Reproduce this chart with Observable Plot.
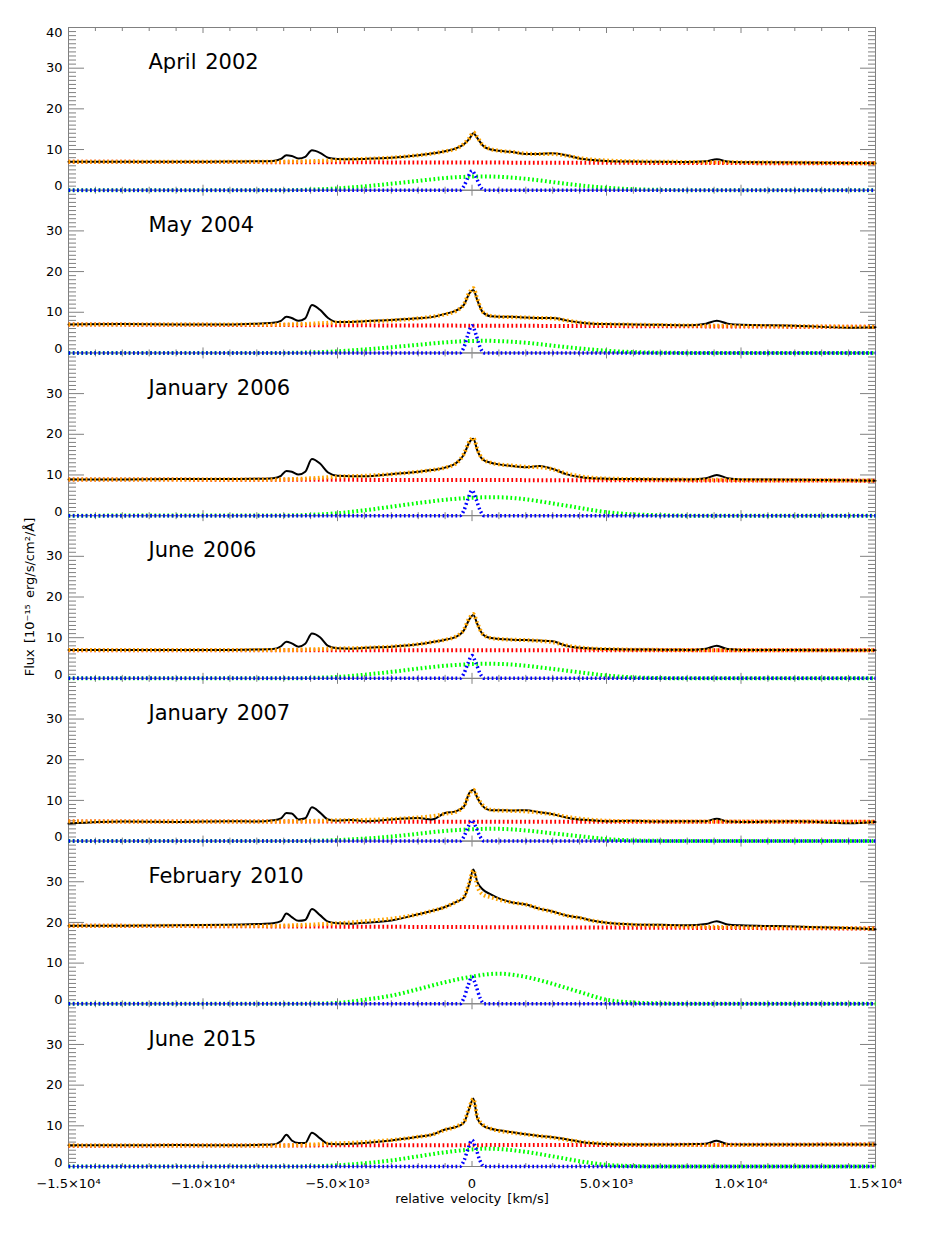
<!DOCTYPE html>
<html><head><meta charset="utf-8">
<script src="https://cdn.jsdelivr.net/npm/d3@7"></script>
<script src="https://cdn.jsdelivr.net/npm/@observablehq/plot@0.6"></script>
<style>html,body{margin:0;padding:0;background:#fff}</style>
</head><body><div id="chart"></div>
<script>
// ---------- data ----------
const panels = ["April 2002","May 2004","January 2006","June 2006","January 2007","February 2010","June 2015"];

// observed spectrum & total fit sampled on this velocity grid (km/s)
const velocity = [-15000,-13000,-11000,-9000,-8000,-7400,-7100,-6900,-6700,-6450,-6200,-5950,-5650,-5350,-5000,-4500,-4000,-3000,-2000,-1500,-1000,-600,-300,-100,50,200,400,700,1000,1500,2000,2500,3000,3500,4000,4500,5000,6000,7000,8000,8700,9100,9500,10000,12000,14000,15000];

const fluxApr2002 = [7.0,7.0,7.0,7.05,7.1,7.2,7.7,8.6,8.4,7.8,8.2,9.8,9.2,8.0,7.7,7.6,7.7,8.0,8.6,9.0,9.6,10.3,11.3,12.6,14.0,12.8,11.0,10.0,9.7,9.4,8.9,8.9,9.1,8.6,7.8,7.4,7.2,7.05,7.0,6.95,7.1,7.6,7.05,6.9,6.8,6.7,6.6];
const fitApr2002  = [7.0,7.0,7.0,7.0,7.0,7.0,7.0,7.05,7.05,7.1,7.1,7.15,7.2,7.3,7.45,7.6,7.7,8.0,8.6,9.0,9.6,10.2,11.4,12.8,14.2,13.0,11.1,10.1,9.7,9.4,9.0,8.9,8.9,8.5,7.9,7.5,7.3,7.1,7.0,6.95,6.9,6.9,6.9,6.85,6.75,6.65,6.6];

const fluxMay2004 = [7.0,7.1,7.0,7.0,7.2,7.4,7.9,8.9,8.6,7.9,8.5,11.8,10.6,8.6,7.6,7.6,7.8,8.1,8.5,8.8,9.6,10.4,11.8,14.6,15.5,12.9,10.0,9.0,8.9,8.9,8.7,8.6,8.6,8.0,7.5,7.2,7.1,7.0,6.9,6.8,7.2,7.9,7.2,6.9,6.7,6.2,6.3];
const fitMay2004  = [7.0,7.0,7.0,7.0,7.0,7.0,7.0,7.0,7.05,7.1,7.1,7.2,7.3,7.4,7.5,7.6,7.7,8.0,8.5,8.9,9.5,10.3,12.0,14.8,15.9,13.2,10.1,9.1,8.9,8.8,8.7,8.6,8.5,8.0,7.5,7.2,7.05,6.95,6.85,6.75,6.7,6.7,6.7,6.65,6.55,6.45,6.4];

const fluxJan2006 = [8.9,8.9,9.0,9.0,9.05,9.2,9.8,11.0,10.8,10.1,10.8,13.9,12.8,10.6,9.8,9.7,9.7,10.2,10.8,11.2,11.8,12.9,15.0,18.0,18.9,16.0,13.8,13.0,12.6,12.2,11.9,12.2,11.5,10.2,9.5,9.2,9.1,9.0,8.95,8.9,9.2,10.0,9.2,8.9,8.8,8.7,8.6];
const fitJan2006  = [8.9,8.9,8.9,8.9,8.9,8.9,8.9,8.95,9.0,9.05,9.1,9.2,9.3,9.45,9.6,9.7,9.8,10.2,10.8,11.2,11.8,12.8,15.2,18.2,19.1,16.3,13.9,13.0,12.6,12.3,12.0,11.9,11.4,10.4,9.7,9.3,9.1,9.0,8.9,8.85,8.8,8.8,8.8,8.75,8.7,8.65,8.6];

const fluxJun2006 = [7.0,7.0,7.0,7.0,7.1,7.2,7.9,9.0,8.6,7.8,8.5,11.0,10.1,8.0,7.4,7.3,7.5,7.8,8.4,8.9,9.5,10.2,11.8,14.5,15.6,13.3,10.8,9.9,9.7,9.5,9.4,9.3,9.1,8.0,7.5,7.35,7.2,7.1,7.05,7.0,7.3,8.0,7.2,7.0,6.95,6.9,6.9];
const fitJun2006  = [6.95,6.95,6.95,6.95,6.95,6.95,6.95,7.0,7.0,7.05,7.1,7.15,7.2,7.3,7.35,7.4,7.5,7.8,8.4,8.9,9.5,10.3,12.0,14.8,15.8,13.5,10.9,9.9,9.7,9.5,9.4,9.2,8.9,8.1,7.6,7.3,7.2,7.05,7.0,6.95,6.9,6.9,6.9,6.9,6.9,6.9,6.9];

const fluxJan2007 = [4.3,4.8,4.7,4.9,4.8,5.1,5.6,6.9,6.8,5.3,5.6,8.3,7.0,5.3,5.0,5.2,4.9,5.3,5.7,5.3,6.9,7.3,8.5,11.8,12.6,10.6,8.6,7.6,7.6,7.5,7.6,7.1,6.6,5.8,5.3,5.1,4.9,5.0,4.8,4.9,4.9,5.5,4.8,4.7,4.9,4.4,4.7];
const fitJan2007  = [4.8,4.8,4.8,4.8,4.8,4.8,4.8,4.85,4.85,4.9,4.9,4.95,5.0,5.05,5.1,5.15,5.2,5.4,5.8,6.1,6.7,7.2,8.6,11.5,12.6,10.8,8.8,7.7,7.5,7.4,7.3,7.0,6.6,6.0,5.5,5.2,5.0,4.9,4.85,4.8,4.8,4.8,4.8,4.8,4.8,4.75,4.75];

const fluxFeb2010 = [19.2,19.2,19.3,19.4,19.6,19.8,20.3,22.2,21.3,20.4,20.6,23.3,21.8,20.2,19.8,19.7,19.9,20.5,22.0,22.8,23.8,25.0,26.1,29.5,33.0,29.9,28.1,26.9,25.9,24.9,24.4,23.4,22.7,21.7,21.2,20.4,19.9,19.5,19.4,19.3,19.6,20.3,19.5,19.3,19.0,18.6,18.3];
const fitFeb2010  = [19.2,19.2,19.2,19.2,19.2,19.2,19.2,19.25,19.3,19.35,19.4,19.45,19.55,19.65,19.8,20.0,20.3,20.9,22.0,22.8,23.8,25.0,26.3,29.8,32.8,28.8,26.9,26.2,25.6,24.9,24.4,23.4,22.6,21.7,21.1,20.4,19.9,19.4,19.2,19.0,18.95,18.9,18.9,18.85,18.75,18.6,18.5];

const fluxJun2015 = [5.2,5.2,5.3,5.2,5.3,5.4,6.2,7.8,6.4,5.8,5.8,8.3,6.9,5.6,5.5,5.6,5.8,6.4,7.3,7.8,9.1,9.7,10.8,14.3,16.7,11.8,10.1,9.3,8.9,8.4,7.9,7.5,7.2,6.7,6.1,5.7,5.5,5.4,5.4,5.5,5.6,6.3,5.5,5.4,5.4,5.4,5.4];
const fitJun2015  = [5.15,5.15,5.15,5.15,5.15,5.15,5.15,5.2,5.25,5.3,5.35,5.4,5.5,5.6,5.7,5.8,6.0,6.5,7.3,7.8,9.0,9.8,11.0,14.5,16.6,12.1,10.3,9.3,8.8,8.3,7.9,7.5,7.1,6.6,6.1,5.8,5.6,5.4,5.3,5.3,5.3,5.3,5.3,5.3,5.35,5.4,5.4];

// continuum (red), straight line between the two edges
const continuumVelocity = [-15000, 15000];
const contApr2002 = [7.0, 6.6];
const contMay2004 = [7.0, 6.4];
const contJan2006 = [8.9, 8.6];
const contJun2006 = [6.9, 6.9];
const contJan2007 = [4.8, 4.75];
const contFeb2010 = [19.2, 18.5];
const contJun2015 = [5.1, 5.4];

// broad component (green)
const broadVelocity = [-15000,-7000,-6000,-5000,-4000,-3000,-2000,-1000,0,500,1000,2000,3000,4000,5000,6000,7000,8000,15000];
const broadApr2002 = [0,0,0.15,0.45,0.95,1.6,2.3,3.0,3.35,3.4,3.3,2.8,2.0,1.2,0.6,0.25,0.08,0,0];
const broadMay2004 = [0,0,0.12,0.4,0.85,1.4,2.0,2.6,2.95,3.0,2.9,2.5,1.8,1.1,0.55,0.2,0.06,0,0];
const broadJan2006 = [0,0.05,0.2,0.6,1.3,2.2,3.1,3.9,4.4,4.5,4.5,4.0,3.0,1.9,0.85,0.3,0.1,0,0];
const broadJun2006 = [0,0,0.1,0.35,0.9,1.6,2.4,3.1,3.5,3.6,3.55,3.1,2.3,1.5,0.7,0.25,0.08,0,0];
const broadJan2007 = [0,0,0.05,0.25,0.6,1.1,1.8,2.5,2.9,3.0,3.0,2.6,1.9,1.2,0.5,0.15,0.05,0,0];
const broadFeb2010 = [0,0,0.05,0.2,1.0,2.0,3.6,5.3,6.7,7.2,7.4,6.6,4.9,2.9,1.0,0.3,0.1,0,0];
const broadJun2015 = [0,0,0.05,0.3,0.8,1.5,2.5,3.5,4.2,4.4,4.3,3.6,2.5,1.3,0.4,0.1,0,0,0];

// narrow component (blue)
const narrowVelocity = [-15000,-450,-300,-150,0,150,300,450,15000];
const narrowApr2002 = [0,0,1.0,3.2,4.8,3.2,1.0,0,0];
const narrowMay2004 = [0,0,1.4,4.5,6.7,4.5,1.4,0,0];
const narrowJan2006 = [0,0,1.3,4.1,6.2,4.1,1.3,0,0];
const narrowJun2006 = [0,0,1.2,3.7,5.6,3.7,1.2,0,0];
const narrowJan2007 = [0,0,1.1,3.4,5.1,3.4,1.1,0,0];
const narrowFeb2010 = [0,0,1.4,4.4,6.6,4.4,1.4,0,0];
const narrowJun2015 = [0,0,1.4,4.3,6.5,4.3,1.4,0,0];

// axis ticks
const xMajorTicks = [-15000,-10000,-5000,0,5000,10000,15000];
const xTickLabels = ["\u22121.5\u00d710\u2074","\u22121.0\u00d710\u2074","\u22125.0\u00d710\u00b3","0","5.0\u00d710\u00b3","1.0\u00d710\u2074","1.5\u00d710\u2074"];
const xMinorTicks = d3.range(-14000, 15000, 1000).filter(v => v % 5000 !== 0);
const yMajorTicks = [10, 20, 30];
const yMinorTicks = d3.range(1, 40).filter(v => v % 10 !== 0);
const yLabelsMid = [10, 20, 30];

// ---------- tidy tables ----------
const fluxSeries = [fluxApr2002, fluxMay2004, fluxJan2006, fluxJun2006, fluxJan2007, fluxFeb2010, fluxJun2015];
const fitSeries = [fitApr2002, fitMay2004, fitJan2006, fitJun2006, fitJan2007, fitFeb2010, fitJun2015];
const contSeries = [contApr2002, contMay2004, contJan2006, contJun2006, contJan2007, contFeb2010, contJun2015];
const broadSeries = [broadApr2002, broadMay2004, broadJan2006, broadJun2006, broadJan2007, broadFeb2010, broadJun2015];
const narrowSeries = [narrowApr2002, narrowMay2004, narrowJan2006, narrowJun2006, narrowJan2007, narrowFeb2010, narrowJun2015];

function tidy(xs, series) {
  return panels.flatMap((p, k) => xs.map((v, i) => ({panel: p, v, f: series[k][i]})));
}
const fluxData = tidy(velocity, fluxSeries);
const fitData = tidy(velocity, fitSeries);
const contData = tidy(continuumVelocity, contSeries);
const broadData = tidy(broadVelocity, broadSeries);
const narrowData = tidy(narrowVelocity, narrowSeries);
const xLabelMap = new Map(xMajorTicks.map((t, i) => [t, xTickLabels[i]]));

// ---------- plot ----------
const gray = "#808080";
const dotted = {strokeWidth: 4, strokeDasharray: "1.7,2.6", strokeLinecap: "butt"};
const tickOpts = {fill: "none", stroke: gray, label: null};

const chart = Plot.plot({
  width: 926,
  height: 1235,
  marginTop: 27,
  marginBottom: 69,
  marginLeft: 68,
  marginRight: 51,
  style: {fontFamily: "'DejaVu Sans', sans-serif", fontSize: "13px", wordSpacing: "2px", background: "#fff", color: "#000"},
  x: {domain: [-15000, 15000]},
  y: {domain: [0, 40]},
  fy: {domain: panels, padding: 0, round: false},
  marks: [
    Plot.axisFy({anchor: "left", tickSize: 0, tickFormat: () => "", label: "Flux [10\u207b\u00b9\u2075 erg/s/cm\u00b2/\u00c5]", labelAnchor: "center", labelArrow: "none", labelOffset: 44, fontSize: 13}),
    Plot.frame({stroke: gray}),
    Plot.axisY(yMinorTicks, {anchor: "left", tickSize: -8, ...tickOpts}),
    Plot.axisY(yMajorTicks, {anchor: "left", tickSize: -16, ...tickOpts}),
    Plot.axisY(yMinorTicks, {anchor: "right", tickSize: -8, ...tickOpts}),
    Plot.axisY(yMajorTicks, {anchor: "right", tickSize: -16, ...tickOpts}),
    Plot.axisX(xMinorTicks, {anchor: "bottom", tickSize: -3, facetAnchor: null, ...tickOpts}),
    Plot.axisX(xMajorTicks, {anchor: "bottom", tickSize: -5, facetAnchor: null, ...tickOpts}),
    Plot.axisX(xMinorTicks, {anchor: "top", tickSize: -3, facetAnchor: null, ...tickOpts}),
    Plot.axisX(xMajorTicks, {anchor: "top", tickSize: -5, facetAnchor: null, ...tickOpts}),
    Plot.axisX(xMajorTicks, {anchor: "bottom", tickSize: 0, tickPadding: 12, tickFormat: d => xLabelMap.get(d), label: "relative velocity [km/s]", labelAnchor: "center", labelArrow: "none", labelOffset: 36, fontSize: 13}),
    Plot.text(yLabelsMid, {y: d => d, text: d => `${d}`, frameAnchor: "left", dx: -6, textAnchor: "end", fontSize: 13}),
    Plot.text([0], {y: d => d, text: d => `${d}`, frameAnchor: "left", dx: -6, dy: -4, textAnchor: "end", fontSize: 13}),
    Plot.text([{panel: panels[0], v: 40}], {fy: "panel", y: "v", text: d => `${d.v}`, frameAnchor: "left", dx: -6, dy: 5, textAnchor: "end", fontSize: 13}),
    Plot.line(contData, {x: "v", y: "f", fy: "panel", stroke: "#ff0000", ...dotted}),
    Plot.line(broadData, {x: "v", y: "f", fy: "panel", stroke: "#00ff00", curve: "monotone-x", ...dotted}),
    Plot.line(narrowData, {x: "v", y: "f", fy: "panel", stroke: "#0000ff", curve: "monotone-x", ...dotted, strokeWidth: 3.5}),
    Plot.line(fluxData, {x: "v", y: "f", fy: "panel", stroke: "#000", strokeWidth: 2, curve: "monotone-x"}),
    Plot.line(fitData, {x: "v", y: "f", fy: "panel", stroke: "#ffa500", curve: "monotone-x", ...dotted}),
    Plot.text(panels, {fy: d => d, text: d => d, frameAnchor: "top-left", dx: 80, dy: 35, textAnchor: "start", lineAnchor: "middle", fontSize: 21})
  ]
});
document.getElementById("chart").appendChild(chart);
</script>
</body></html>
